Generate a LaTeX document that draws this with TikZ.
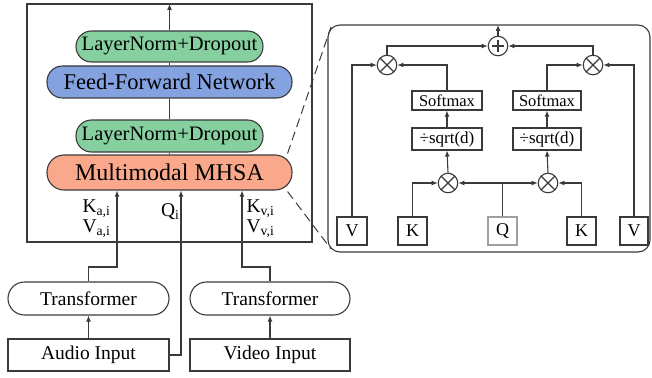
\documentclass[tikz,border=0pt]{standalone}
\usepackage{fontspec}
\setmainfont{Liberation Serif}
\usetikzlibrary{arrows.meta,calc}
\definecolor{lnfill}{RGB}{134,208,160}
\definecolor{fffill}{RGB}{132,162,224}
\definecolor{mhfill}{RGB}{250,168,140}
\definecolor{ink}{RGB}{58,58,58}
\definecolor{qgray}{RGB}{160,160,160}
\begin{document}
\begin{tikzpicture}[x=1pt,y=-1pt,
  line width=1.1pt, draw=ink,
  arr/.style={draw=ink,line width=1.1pt,-{Latex[length=6pt,width=5pt]}},
  link/.style={draw=ink,line width=1.1pt},
  pill/.style={draw=ink,line width=1.1pt,rounded corners=15.5pt,inner sep=0pt,text=black},
  plainbox/.style={draw=ink,line width=1.1pt,inner sep=0pt,text=black},
  opcirc/.style={circle,draw=ink,line width=1.1pt,minimum size=19.5pt,inner sep=0pt},
  otimesnode/.style={opcirc,path picture={
      \draw[ink,line width=1.1pt] (path picture bounding box.south west) -- (path picture bounding box.north east)
        (path picture bounding box.north west) -- (path picture bounding box.south east);}},
  oplusnode/.style={opcirc,path picture={
      \draw[ink,line width=1.2pt] ([yshift=6pt]path picture bounding box.center) -- ([yshift=-6pt]path picture bounding box.center)
        ([xshift=-6pt]path picture bounding box.center) -- ([xshift=6pt]path picture bounding box.center);}},
]
\useasboundingbox (0,0) rectangle (652,377);

% ---------- encoder block ----------
\draw[ink,line width=1.1pt] (27,4) rectangle (312,242);
\node[pill,fill=lnfill,minimum width=187pt,minimum height=31pt,font=\fontsize{20.5}{22}\selectfont] (ln2) at (169.5,46.5) {LayerNorm+Dropout};
\node[pill,fill=fffill,minimum width=245pt,minimum height=32pt,font=\fontsize{22.5}{24}\selectfont] (ffn) at (169.5,82) {Feed-Forward Network};
\node[pill,fill=lnfill,minimum width=187pt,minimum height=32pt,font=\fontsize{20.5}{22}\selectfont] (ln1) at (169.5,136) {LayerNorm+Dropout};
\node[pill,rounded corners=17pt,fill=mhfill,minimum width=245pt,minimum height=35pt,font=\fontsize{24}{26}\selectfont] (mhsa) at (169.5,172.5) {Multimodal MHSA};
\coordinate (out) at (169.5,4);

\draw[link] (mhsa.north) -- (ln1.south);
\draw[link] (ln1.north) -- (ffn.south);
\draw[link] (ffn.north) -- (ln2.south);
\draw[arr] (ln2.north) -- (out);

% ---------- inputs ----------
\node[pill,rounded corners=16.5pt,minimum width=161pt,minimum height=33pt,font=\fontsize{19.5}{21}\selectfont] (tfa) at (88.5,298.5) {Transformer};
\node[pill,rounded corners=16.5pt,minimum width=160pt,minimum height=33pt,font=\fontsize{19.5}{21}\selectfont] (tfv) at (270,298.5) {Transformer};
\node[plainbox,minimum width=161pt,minimum height=32pt,font=\fontsize{19.5}{21}\selectfont] (audio) at (88.5,355) {Audio Input};
\node[plainbox,minimum width=160pt,minimum height=32pt,font=\fontsize{19.5}{21}\selectfont] (video) at (270,355) {Video Input};

\draw[arr] (audio.north) -- (tfa.south);
\draw[arr] (video.north) -- (tfv.south);
\draw[arr] (tfa.north) -- ++(0,-14.5) -| ([xshift=-52.5pt]mhsa.south);
\draw[arr] (audio.east) -| ([xshift=11.5pt]mhsa.south);
\draw[arr] (tfv.north) -- ++(0,-14.5) -| ([xshift=72.5pt]mhsa.south);

\node[anchor=west,inner sep=0pt,font=\fontsize{19.5}{20}\selectfont] (ka) at (82,209) {K\textsubscript{a,i}};
\node[anchor=west,inner sep=0pt,font=\fontsize{19.5}{20}\selectfont] (va) at (82,228.5) {V\textsubscript{a,i}};
\node[anchor=west,inner sep=0pt,font=\fontsize{19.5}{20}\selectfont] (qi) at (160.5,212) {Q\textsubscript{i}};
\node[anchor=west,inner sep=0pt,font=\fontsize{19.5}{20}\selectfont] (kv) at (246,209) {K\textsubscript{v,i}};
\node[anchor=west,inner sep=0pt,font=\fontsize{19.5}{20}\selectfont] (vv) at (246,228.5) {V\textsubscript{v,i}};

% ---------- attention detail ----------
\draw[ink,line width=1.1pt,rounded corners=12pt] (328,25) rectangle (650,252);
\coordinate (dtl) at (331,27);
\coordinate (dbl) at (331,249);
\draw[ink,line width=1pt,dash pattern=on 9pt off 5pt] ([xshift=-5pt,yshift=1pt]mhsa.north east) -- (dtl);
\draw[ink,line width=1pt,dash pattern=on 9pt off 5pt] ([xshift=-5pt,yshift=-1pt]mhsa.south east) -- (dbl);

\node[oplusnode] (plus) at (498,46) {};
\node[otimesnode] (ml) at (387,65) {};
\node[otimesnode] (mr) at (593,65) {};
\node[otimesnode] (ql) at (448,183) {};
\node[otimesnode] (qr) at (548,183) {};
\coordinate (dtop) at (498,25);

\node[plainbox,minimum width=70pt,minimum height=19pt,font=\fontsize{16.5}{18}\selectfont] (sol) at (447,100.5) {Softmax};
\node[plainbox,minimum width=68pt,minimum height=19pt,font=\fontsize{16.5}{18}\selectfont] (sor) at (547,100.5) {Softmax};
\node[plainbox,minimum width=70pt,minimum height=22pt,font=\fontsize{17}{18}\selectfont] (sql) at (447,139) {÷sqrt(d)};
\node[plainbox,minimum width=68pt,minimum height=22pt,font=\fontsize{17}{18}\selectfont] (sqr) at (547,139) {÷sqrt(d)};

\node[plainbox,minimum width=30pt,minimum height=28pt,font=\fontsize{18}{19}\selectfont] (vl) at (352,231) {V};
\node[plainbox,minimum width=29pt,minimum height=28pt,font=\fontsize{18}{19}\selectfont] (kl) at (412.5,231) {K};
\node[plainbox,draw=qgray,minimum width=29pt,minimum height=28pt,font=\fontsize{18}{19}\selectfont] (q) at (502.5,231) {Q};
\node[plainbox,minimum width=29pt,minimum height=28pt,font=\fontsize{18}{19}\selectfont] (kr) at (581.5,231) {K};
\node[plainbox,minimum width=28pt,minimum height=28pt,font=\fontsize{18}{19}\selectfont] (vr) at (634,231) {V};

\draw[arr] (plus.north) -- (dtop);
\draw[arr] (ml.north) |- (plus.west);
\draw[arr] (mr.north) |- (plus.east);
\draw[arr] (vl.north) |- (ml.west);
\draw[arr] (sol.north) |- (ml.east);
\draw[arr] (sor.north) |- (mr.west);
\draw[arr] (vr.north) |- (mr.east);
\draw[arr] (sql.north) -- (sol.south);
\draw[arr] (sqr.north) -- (sor.south);
\draw[arr] (ql.north) -- (sql.south);
\draw[arr] (qr.north) -- (sqr.south);
\draw[arr] (kl.north) |- (ql.west);
\draw[arr] (kr.north) |- (qr.east);
\draw[arr] (q.north) |- (ql.east);
\draw[arr] (q.north) |- (qr.west);
\end{tikzpicture}
\end{document}
